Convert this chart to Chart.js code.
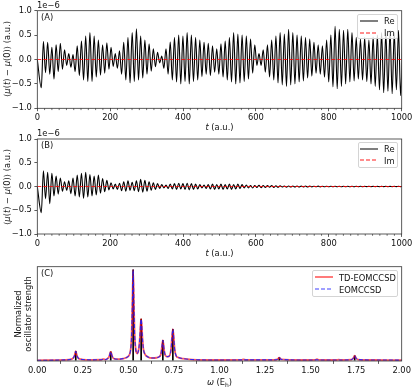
<!DOCTYPE html>
<html>
<head>
<meta charset="utf-8">
<script src="https://cdn.jsdelivr.net/npm/chart.js@4.4.0/dist/chart.umd.min.js"></script>
<style>
  body { margin: 0; background: #fff; }
  #wrap { position: relative; width: 415px; height: 390px; font-family: "DejaVu Sans", sans-serif; font-size: 8.33px; color: #111; overflow: hidden; }
  canvas { position: absolute; left: 0; }
  .t { position: absolute; white-space: nowrap; line-height: 1; transform: translate(-50%, -50%); }
  .l { position: absolute; white-space: nowrap; line-height: 1; transform: translateY(-50%); }
  .rot { transform: translate(-50%, -50%) rotate(-90deg); text-align: center; }
  .lg { position: absolute; background: rgba(255,255,255,0.8); border: 1px solid #d4d4d4; border-radius: 2px; box-sizing: border-box; }
  svg.sw { position: absolute; width: 18px; height: 4px; overflow: visible; }
</style>
</head>
<body>
<div id="wrap">
  <canvas id="chA" width="415" height="130" style="top:0"></canvas>
  <canvas id="chB" width="415" height="130" style="top:130px"></canvas>
  <canvas id="chC" width="415" height="130" style="top:260px"></canvas>

  <!-- panel A texts -->
  <div class="l" style="left:37px;top:5px">1e−6</div>
  <div class="l" style="left:41px;top:17px">(A)</div>
  <div class="t rot" style="left:7px;top:59px">⟨<i>μ</i>(<i>t</i>) − <i>μ</i>(0)⟩ (a.u.)</div>
  <div class="t" style="left:219.5px;top:126.5px"><i>t</i> (a.u.)</div>
  <div class="lg" style="left:357px;top:14px;width:41px;height:25px"></div>
  <svg class="sw" style="left:360px;top:18.7px"><line x1="0" y1="2" x2="18" y2="2" stroke="#555" stroke-width="1.5"/></svg>
  <svg class="sw" style="left:360px;top:30.7px"><line x1="0" y1="2" x2="18" y2="2" stroke="rgba(255,0,0,0.6)" stroke-width="1.5" stroke-dasharray="4 2"/></svg>
  <div class="l" style="left:384px;top:21px">Re</div>
  <div class="l" style="left:384px;top:33px">Im</div>

  <!-- panel B texts -->
  <div class="l" style="left:37px;top:133px">1e−6</div>
  <div class="l" style="left:41px;top:145px">(B)</div>
  <div class="t rot" style="left:7px;top:187px">⟨<i>μ</i>(<i>t</i>) − <i>μ</i>(0)⟩ (a.u.)</div>
  <div class="t" style="left:219.5px;top:253px"><i>t</i> (a.u.)</div>
  <div class="lg" style="left:358px;top:142px;width:40px;height:26px"></div>
  <svg class="sw" style="left:360px;top:146.7px"><line x1="0" y1="2" x2="18" y2="2" stroke="#555" stroke-width="1.5"/></svg>
  <svg class="sw" style="left:360px;top:158.2px"><line x1="0" y1="2" x2="18" y2="2" stroke="rgba(255,0,0,0.6)" stroke-width="1.5" stroke-dasharray="4 2"/></svg>
  <div class="l" style="left:384px;top:149px">Re</div>
  <div class="l" style="left:384px;top:160.5px">Im</div>

  <!-- panel C texts -->
  <div class="l" style="left:41px;top:272.5px">(C)</div>
  <div class="t rot" style="left:23px;top:314px;line-height:1.2">Normalized<br>oscillator strength</div>
  <div class="t" style="left:219.5px;top:382.5px"><i>ω</i> (E<sub style="font-size:6px;vertical-align:-2px">h</sub>)</div>
  <div class="lg" style="left:312px;top:270px;width:86px;height:27px"></div>
  <svg class="sw" style="left:315px;top:274.7px"><line x1="0" y1="2" x2="18" y2="2" stroke="rgba(255,0,0,0.65)" stroke-width="1.6"/></svg>
  <svg class="sw" style="left:315px;top:287.2px"><line x1="0" y1="2" x2="18" y2="2" stroke="rgba(30,30,255,0.85)" stroke-width="1.2" stroke-dasharray="4 2"/></svg>
  <div class="l" style="left:339px;top:277.5px">TD-EOMCCSD</div>
  <div class="l" style="left:339px;top:289.5px">EOMCCSD</div>
</div>

<script>
// extrema of Re <mu(t)-mu(0)> (units of 1e-6), one min and one max per oscillation
const firstExtremumT = 11;
const halfPeriod = 5.8;

const reAMin = [
  -0.58, -0.27, -0.30, -0.40, -0.25, -0.20, -0.12, -0.16, -0.25, -0.33,
  -0.42, -0.45, -0.45, -0.36, -0.32, -0.28, -0.20, -0.14, -0.18, -0.30,
  -0.42, -0.48, -0.45, -0.42, -0.38, -0.30, -0.24, -0.15, -0.07, -0.18,
  -0.30, -0.42, -0.46, -0.50, -0.45, -0.50, -0.45, -0.42, -0.35, -0.30,
  -0.33, -0.26, -0.30, -0.36, -0.42, -0.46, -0.50, -0.48, -0.45, -0.40,
  -0.28, -0.12, -0.12, -0.26, -0.36, -0.42, -0.48, -0.52, -0.55, -0.52,
  -0.50, -0.46, -0.44, -0.38, -0.34, -0.28, -0.30, -0.36, -0.46, -0.56,
  -0.60, -0.55, -0.50, -0.46, -0.44, -0.40, -0.42, -0.45, -0.50, -0.55,
  -0.62, -0.68, -0.65, -0.70, -0.62, -0.74
];
const reAMax = [
  0.37, 0.35, 0.25, 0.30, 0.33, 0.20, 0.12, 0.10, 0.28, 0.38,
  0.48, 0.55, 0.48, 0.40, 0.30, 0.34, 0.25, 0.12, 0.18, 0.35,
  0.45, 0.55, 0.63, 0.48, 0.40, 0.32, 0.22, 0.15, 0.07, 0.22,
  0.36, 0.45, 0.50, 0.48, 0.55, 0.50, 0.45, 0.40, 0.35, 0.33,
  0.28, 0.22, 0.32, 0.38, 0.45, 0.55, 0.52, 0.50, 0.48, 0.42,
  0.30, 0.12, 0.20, 0.30, 0.40, 0.48, 0.55, 0.52, 0.62, 0.55,
  0.50, 0.48, 0.45, 0.42, 0.35, 0.30, 0.28, 0.40, 0.50, 0.68,
  0.62, 0.60, 0.62, 0.55, 0.45, 0.42, 0.45, 0.40, 0.46, 0.50,
  0.55, 0.55, 0.60, 0.55, 0.60, 0.48
];

const reBMin = [
  -0.55, -0.26, -0.36, -0.20, -0.16, -0.10, -0.08, -0.15, -0.20, -0.22,
  -0.25, -0.22, -0.20, -0.18, -0.14, -0.11, -0.07, -0.05, -0.06, -0.09,
  -0.10, -0.08, -0.09, -0.11, -0.12, -0.10, -0.08, -0.06, -0.04, -0.03,
  -0.04, -0.05, -0.06, -0.05, -0.06, -0.07, -0.06, -0.05, -0.03, -0.04,
  -0.05, -0.06, -0.05, -0.06, -0.05, -0.06, -0.05, -0.04, -0.03, -0.03,
  -0.03, -0.02, -0.025, -0.02, -0.015, -0.02, -0.015, -0.012, -0.015, -0.01,
  -0.012, -0.01, -0.008, -0.01, -0.008, -0.006, -0.008, -0.006, -0.005, -0.006,
  -0.005, -0.004, -0.005, -0.004, -0.004, -0.003, -0.004, -0.003, -0.003, -0.003,
  -0.002, -0.003, -0.002, -0.002, -0.002, -0.002
];
const reBMax = [
  0.33, 0.30, 0.28, 0.22, 0.18, 0.10, 0.12, 0.18, 0.24, 0.28,
  0.30, 0.25, 0.22, 0.24, 0.17, 0.13, 0.08, 0.05, 0.07, 0.10,
  0.12, 0.09, 0.12, 0.15, 0.13, 0.10, 0.08, 0.06, 0.04, 0.03,
  0.05, 0.06, 0.07, 0.06, 0.07, 0.06, 0.05, 0.04, 0.03, 0.04,
  0.05, 0.04, 0.05, 0.04, 0.05, 0.04, 0.05, 0.04, 0.03, 0.02,
  0.02, 0.025, 0.02, 0.018, 0.02, 0.015, 0.015, 0.012, 0.01, 0.012,
  0.01, 0.008, 0.01, 0.008, 0.006, 0.008, 0.006, 0.005, 0.006, 0.005,
  0.004, 0.005, 0.004, 0.004, 0.003, 0.004, 0.003, 0.003, 0.003, 0.002,
  0.003, 0.002, 0.002, 0.002, 0.002, 0.002
];

// Im part stays on zero
const imT = [0, 1000];
const imV = [0, 0];

const timeTicks = [0, 200, 400, 600, 800, 1000];
const muTicks = [-1.0, -0.5, 0.0, 0.5, 1.0];

// spectrum (normalized oscillator strength vs omega in Eh)
const specW = [
  0.00, 0.15, 0.185, 0.195, 0.203, 0.208, 0.211, 0.214, 0.219, 0.227,
  0.25, 0.30, 0.350, 0.363, 0.375, 0.387, 0.395, 0.400, 0.403, 0.406,
  0.411, 0.419, 0.44, 0.47, 0.490, 0.502, 0.510, 0.514, 0.518, 0.522,
  0.526, 0.530, 0.534, 0.538, 0.543, 0.548, 0.553, 0.558, 0.563, 0.567,
  0.570, 0.573, 0.577, 0.582, 0.590, 0.605, 0.63, 0.655, 0.670, 0.677,
  0.681, 0.685, 0.689, 0.693, 0.697, 0.704, 0.715, 0.723, 0.728, 0.734,
  0.739, 0.744, 0.749, 0.754, 0.762, 0.775, 0.80, 0.85, 1.00, 1.12,
  1.132, 1.145, 1.30, 1.318, 1.328, 1.338, 1.45, 1.525, 1.535, 1.545,
  1.64, 1.654, 1.668, 1.725, 1.735, 1.742, 1.749, 1.76, 1.85, 2.00
];
const tdSpec = [
  0.0, 0.004, 0.01, 0.02, 0.045, 0.08, 0.10, 0.08, 0.045, 0.02,
  0.008, 0.005, 0.006, 0.012, 0.007, 0.02, 0.045, 0.08, 0.093, 0.08,
  0.045, 0.02, 0.012, 0.018, 0.03, 0.05, 0.09, 0.15, 0.30, 0.65,
  1.00, 0.65, 0.30, 0.16, 0.09, 0.075, 0.09, 0.14, 0.26, 0.40,
  0.455, 0.40, 0.25, 0.13, 0.07, 0.04, 0.025, 0.028, 0.04, 0.06,
  0.10, 0.17, 0.22, 0.17, 0.10, 0.05, 0.04, 0.045, 0.06, 0.12,
  0.25, 0.344, 0.25, 0.12, 0.05, 0.03, 0.018, 0.008, 0.003, 0.004,
  0.01, 0.004, 0.004, 0.01, 0.03, 0.01, 0.003, 0.005, 0.012, 0.005,
  0.003, 0.008, 0.003, 0.008, 0.025, 0.05, 0.025, 0.008, 0.003, 0.002
];
const eomSpec = [
  0.0, 0.004, 0.01, 0.02, 0.045, 0.08, 0.10, 0.08, 0.045, 0.02,
  0.008, 0.005, 0.006, 0.012, 0.007, 0.02, 0.045, 0.08, 0.093, 0.08,
  0.045, 0.02, 0.012, 0.018, 0.03, 0.05, 0.09, 0.15, 0.30, 0.65,
  1.00, 0.65, 0.30, 0.16, 0.09, 0.075, 0.09, 0.14, 0.26, 0.40,
  0.455, 0.40, 0.25, 0.13, 0.07, 0.04, 0.025, 0.028, 0.04, 0.06,
  0.10, 0.17, 0.22, 0.17, 0.10, 0.05, 0.04, 0.045, 0.06, 0.12,
  0.25, 0.344, 0.25, 0.12, 0.05, 0.03, 0.018, 0.008, 0.003, 0.004,
  0.004, 0.004, 0.004, 0.01, 0.03, 0.01, 0.003, 0.004, 0.005, 0.004,
  0.003, 0.003, 0.003, 0.008, 0.025, 0.05, 0.025, 0.008, 0.003, 0.002
];
// EOMCCSD excitation sticks
const stickW = [0.211, 0.403, 0.526, 0.570, 0.689, 0.744, 1.328, 1.742];
const stickH = [0.10, 0.093, 1.00, 0.455, 0.22, 0.344, 0.03, 0.05];
const omegaTicks = [0, 0.25, 0.5, 0.75, 1.0, 1.25, 1.5, 1.75, 2.0];

Chart.defaults.font.family = '"DejaVu Sans", sans-serif';
Chart.defaults.font.size = 8.33;
Chart.defaults.color = '#111';

// build the zig-zag signal from the read extrema
function signal(mins, maxs) {
  const pts = [{ x: 0, y: 0 }];
  const n = Math.min(mins.length, maxs.length);
  for (let i = 0; i < n; i++) {
    const t = firstExtremumT + 2 * i * halfPeriod;
    pts.push({ x: t, y: mins[i] });
    pts.push({ x: t + halfPeriod, y: maxs[i] });
  }
  return pts;
}
const pairs = (xs, ys) => xs.map((x, i) => ({ x: x, y: ys[i] }));
const fmtMinus = (s) => s.replace('-', '\u2212');

// spines + minor ticks
const framePlugin = {
  id: 'frame',
  afterDatasetsDraw(chart, args, opts) {
    const ctx = chart.ctx, a = chart.chartArea;
    ctx.save();
    ctx.strokeStyle = '#333';
    if (opts.minorStep) {
      const xs = chart.scales.x;
      ctx.lineWidth = 0.7;
      ctx.beginPath();
      const n = Math.round((xs.max - xs.min) / opts.minorStep);
      for (let k = 0; k <= n; k++) {
        const v = xs.min + k * opts.minorStep;
        if (Math.abs(v % opts.majorStep) < 1e-9) continue;
        const px = xs.getPixelForValue(v);
        ctx.moveTo(px, a.bottom);
        ctx.lineTo(px, a.bottom + 1.8);
      }
      ctx.stroke();
    }
    ctx.lineWidth = 0.8;
    ctx.strokeRect(a.left, a.top, a.right - a.left, a.bottom - a.top);
    ctx.restore();
  }
};

function xAxis(min, max, ticks, fmt, h) {
  return {
    type: 'linear', min: min, max: max, offset: false,
    afterBuildTicks: (s) => { s.ticks = ticks.map(v => ({ value: v })); },
    ticks: { padding: 2, maxRotation: 0, autoSkip: false, color: '#111', callback: fmt },
    grid: { display: true, drawOnChartArea: false, tickLength: 2.9, tickColor: '#333', tickWidth: 0.8 },
    border: { display: false },
    afterFit: (s) => { s.height = h; }
  };
}
function yAxis(min, max, ticks, show) {
  return {
    type: 'linear', min: min, max: max,
    afterBuildTicks: (s) => { s.ticks = ticks.map(v => ({ value: v })); },
    ticks: { display: show, padding: 2.5, color: '#111', callback: (v) => fmtMinus(v.toFixed(1)) },
    grid: { display: show, drawOnChartArea: false, tickLength: 2.9, tickColor: '#333', tickWidth: 0.8 },
    border: { display: false },
    afterFit: (s) => { s.width = 37.3; }
  };
}
const base = {
  responsive: false, animation: false, devicePixelRatio: 1, events: [],
  plugins: { legend: { display: false }, tooltip: { enabled: false } }
};

function timeChart(id, mins, maxs, padTop, xh) {
  return new Chart(document.getElementById(id), {
    type: 'line',
    data: {
      datasets: [
        { label: 'Re', data: signal(mins, maxs), borderColor: '#000', borderWidth: 1.1,
          pointRadius: 0, cubicInterpolationMode: 'monotone', order: 2 },
        { label: 'Im', data: pairs(imT, imV), borderColor: 'rgba(255,0,0,0.8)', borderWidth: 1.2,
          borderDash: [4, 2], pointRadius: 0, order: 1 }
      ]
    },
    options: Object.assign({}, base, {
      layout: { padding: { top: padTop, right: 13.3, left: 0, bottom: 0 } },
      scales: {
        x: xAxis(0, 1000, timeTicks, (v) => String(v), xh),
        y: yAxis(-1, 1, muTicks, true)
      },
      plugins: Object.assign({}, base.plugins, { frame: { minorStep: 20, majorStep: 200 } })
    }),
    plugins: [framePlugin]
  });
}

timeChart('chA', reAMin, reAMax, 10.7, 21.7);
timeChart('chB', reBMin, reBMax, 9, 26);

new Chart(document.getElementById('chC'), {
  type: 'line',
  data: {
    datasets: [
      { type: 'bar', label: 'sticks', data: pairs(stickW, stickH), backgroundColor: '#000',
        barThickness: 1, borderWidth: 0, order: 3 },
      { label: 'TD-EOMCCSD', data: pairs(specW, tdSpec), borderColor: 'rgba(255,0,0,0.65)',
        borderWidth: 1.8, pointRadius: 0, cubicInterpolationMode: 'monotone', order: 2 },
      { label: 'EOMCCSD', data: pairs(specW, eomSpec), borderColor: 'rgba(30,30,255,0.9)',
        borderWidth: 1.1, borderDash: [4, 2], pointRadius: 0, cubicInterpolationMode: 'monotone', order: 1 }
    ]
  },
  options: Object.assign({}, base, {
    layout: { padding: { top: 6.7, right: 13.3, left: 0, bottom: 0 } },
    scales: {
      x: xAxis(0, 2, omegaTicks, (v) => v.toFixed(2), 29),
      y: yAxis(-0.008, 1.036, [], false)
    },
    plugins: Object.assign({}, base.plugins, { frame: {} })
  }),
  plugins: [framePlugin]
});
</script>
</body>
</html>
